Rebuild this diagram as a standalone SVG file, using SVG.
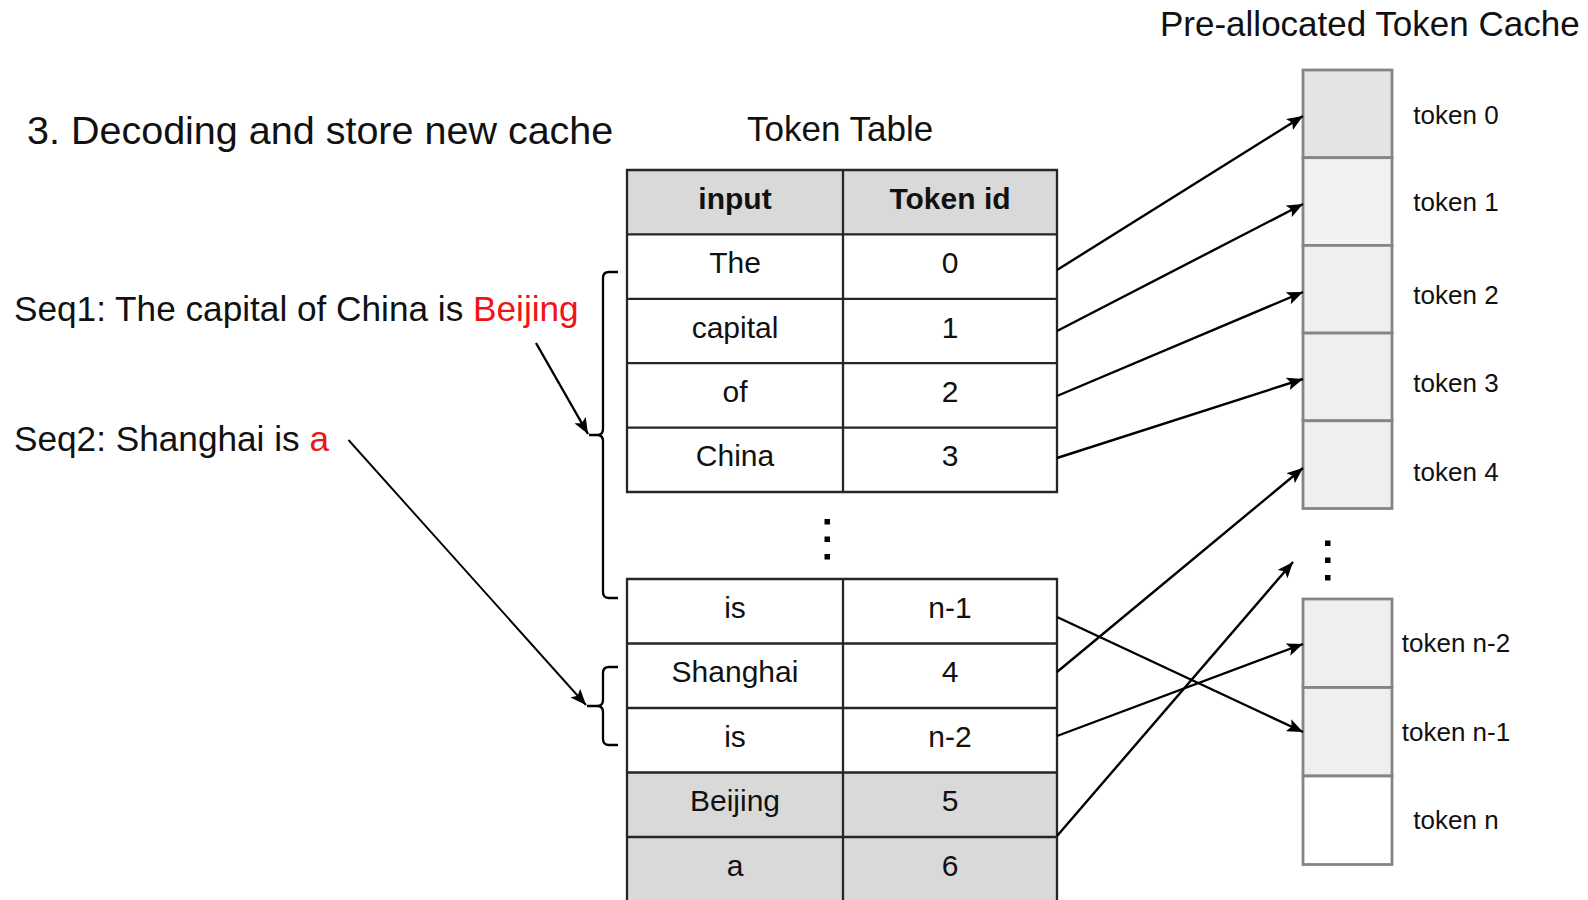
<svg xmlns="http://www.w3.org/2000/svg" width="1588" height="900" viewBox="0 0 1588 900">
  <defs>
    <marker id="ah" markerWidth="17" markerHeight="13" refX="16" refY="6.5" orient="auto" markerUnits="userSpaceOnUse">
      <path d="M0,0 L16,6.5 L0,13 L3.5,6.5 z" fill="#000"/>
    </marker>
    <style>
      text { font-family: "Liberation Sans", Arial, sans-serif; fill: #111; }
      .title { font-size: 39.5px; }
      .sub { font-size: 35px; }
      .seq { font-size: 35.2px; }
      .red { fill: #f01414; }
      .cell { font-size: 30px; text-anchor: middle; }
      .hdr { font-size: 30px; font-weight: bold; text-anchor: middle; }
      .tok { font-size: 26px; text-anchor: middle; }
      .tline { stroke: #262626; stroke-width: 2.3; fill: none; }
      .cache { stroke: #858585; stroke-width: 2.8; }
      .conn { stroke: #000; stroke-width: 2.4; fill: none; marker-end: url(#ah); }
      .thin { stroke-width: 1.9; }
      .brk { stroke: #000; stroke-width: 2.3; fill: none; }
      .dot { fill: #000; }
    </style>
  </defs>
  <rect width="1588" height="900" fill="#fff"/>

  <g id="title">
    <text class="title" x="27" y="144">3. Decoding and store new cache</text>
  </g>
  <g id="token-table-label">
    <text class="sub" x="747" y="141">Token Table</text>
  </g>
  <g id="cache-label">
    <text class="sub" x="1160" y="36">Pre-allocated Token Cache</text>
  </g>

  <g id="seq1">
    <text class="seq" x="14" y="321">Seq1: The capital of China is <tspan class="red">Beijing</tspan></text>
  </g>
  <g id="seq2">
    <text class="seq" x="14" y="451">Seq2: Shanghai is <tspan class="red">a</tspan></text>
  </g>

  <g id="token-table-upper">
    <rect x="627" y="170" width="430" height="64.4" fill="#d9d9d9"/>
    <rect x="627" y="234.4" width="430" height="257.6" fill="#fff"/>
    <path class="tline" d="M627,170 H1057 V492 H627 Z M843,170 V492 M627,234.4 H1057 M627,298.8 H1057 M627,363.2 H1057 M627,427.6 H1057"/>
    <text class="hdr" x="735" y="209">input</text>
    <text class="hdr" x="950" y="209">Token id</text>
    <text class="cell" x="735" y="273">The</text>
    <text class="cell" x="950" y="273">0</text>
    <text class="cell" x="735" y="337.5">capital</text>
    <text class="cell" x="950" y="337.5">1</text>
    <text class="cell" x="735" y="402">of</text>
    <text class="cell" x="950" y="402">2</text>
    <text class="cell" x="735" y="466">China</text>
    <text class="cell" x="950" y="466">3</text>
  </g>

  <g id="table-dots">
    <rect class="dot" x="824.5" y="519" width="5.5" height="5.5"/>
    <rect class="dot" x="824.5" y="536.5" width="5.5" height="5.5"/>
    <rect class="dot" x="824.5" y="554" width="5.5" height="5.5"/>
  </g>

  <g id="token-table-lower">
    <rect x="627" y="579" width="430" height="193.5" fill="#fff"/>
    <rect x="627" y="772.5" width="430" height="130" fill="#d9d9d9"/>
    <path class="tline" d="M627,903 V579 H1057 V903 M843,579 V903 M627,643.5 H1057 M627,708 H1057 M627,772.5 H1057 M627,837 H1057"/>
    <text class="cell" x="735" y="617.5">is</text>
    <text class="cell" x="950" y="617.5">n-1</text>
    <text class="cell" x="735" y="682">Shanghai</text>
    <text class="cell" x="950" y="682">4</text>
    <text class="cell" x="735" y="746.5">is</text>
    <text class="cell" x="950" y="746.5">n-2</text>
    <text class="cell" x="735" y="811">Beijing</text>
    <text class="cell" x="950" y="811">5</text>
    <text class="cell" x="735" y="875.5">a</text>
    <text class="cell" x="950" y="875.5">6</text>
  </g>

  <g id="cache">
    <g id="token-0"><rect class="cache" x="1303" y="70" width="89" height="87.7" fill="#e4e4e4"/><text class="tok" x="1456" y="124">token 0</text></g>
    <g id="token-1"><rect class="cache" x="1303" y="157.7" width="89" height="87.7" fill="#f2f2f2"/><text class="tok" x="1456" y="211">token 1</text></g>
    <g id="token-2"><rect class="cache" x="1303" y="245.4" width="89" height="87.7" fill="#efefef"/><text class="tok" x="1456" y="304">token 2</text></g>
    <g id="token-3"><rect class="cache" x="1303" y="333.1" width="89" height="87.7" fill="#efefef"/><text class="tok" x="1456" y="392">token 3</text></g>
    <g id="token-4"><rect class="cache" x="1303" y="420.8" width="89" height="87.7" fill="#efefef"/><text class="tok" x="1456" y="481">token 4</text></g>
    <g id="cache-dots">
      <rect class="dot" x="1325" y="540.5" width="5.5" height="5.5"/>
      <rect class="dot" x="1325" y="557.5" width="5.5" height="5.5"/>
      <rect class="dot" x="1325" y="575" width="5.5" height="5.5"/>
    </g>
    <g id="token-n-2"><rect class="cache" x="1303" y="599" width="89" height="88.5" fill="#efefef"/><text class="tok" x="1456" y="652">token n-2</text></g>
    <g id="token-n-1"><rect class="cache" x="1303" y="687.5" width="89" height="88.5" fill="#efefef"/><text class="tok" x="1456" y="741">token n-1</text></g>
    <g id="token-n"><rect class="cache" x="1303" y="776" width="89" height="88.5" fill="#fff"/><text class="tok" x="1456" y="829">token n</text></g>
  </g>

  <g id="connectors">
    <path class="brk" d="M618,272 H609 Q603,272 603,278 V429 Q603,435 597,435 H589 M597,435 Q603,435 603,441 V592 Q603,598 609,598 H618"/>
    <path class="brk" d="M618,667 H609 Q603,667 603,673 V700 Q603,706 597,706 H587 M597,706 Q603,706 603,712 V739 Q603,745 609,745 H618"/>
    <line class="conn" x1="536" y1="343" x2="588" y2="434"/>
    <line class="conn thin" x1="348.5" y1="440" x2="586" y2="705"/>
    <line class="conn" x1="1057" y1="270" x2="1303" y2="116"/>
    <line class="conn" x1="1057" y1="331" x2="1303" y2="204"/>
    <line class="conn" x1="1057" y1="396" x2="1303" y2="292"/>
    <line class="conn" x1="1057" y1="458" x2="1303" y2="379"/>
    <line class="conn" x1="1057" y1="672" x2="1303" y2="468"/>
    <line class="conn" x1="1057" y1="617" x2="1303" y2="732"/>
    <line class="conn" x1="1057" y1="736" x2="1303" y2="644"/>
    <line class="conn" x1="1057" y1="836" x2="1293" y2="562"/>
  </g>
</svg>
